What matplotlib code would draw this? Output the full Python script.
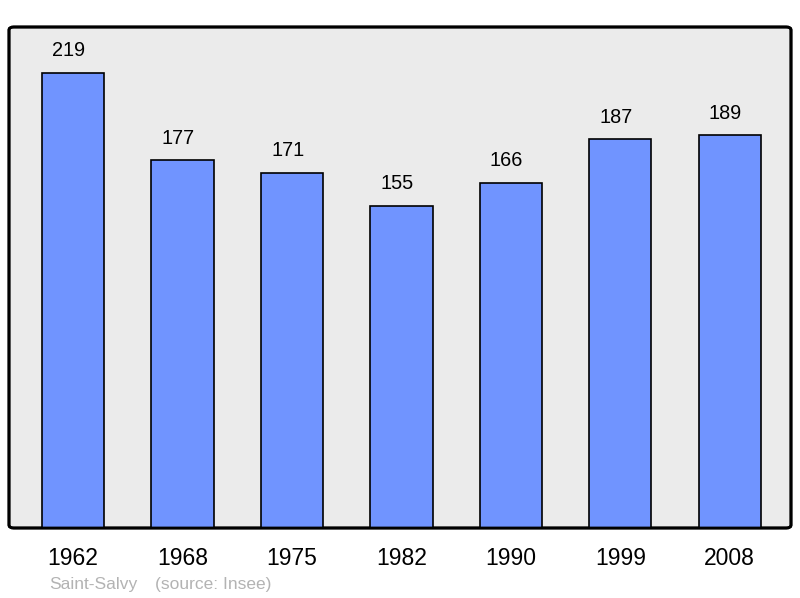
import matplotlib
matplotlib.use('Agg')
import matplotlib.pyplot as plt
from matplotlib.patches import FancyBboxPatch
import numpy as np

plt.rcParams['font.family'] = ['Liberation Sans', 'DejaVu Sans']

years = ['1962', '1968', '1975', '1982', '1990', '1999', '2008']
population = [219, 177, 171, 155, 166, 187, 189]

BG = '#ebebeb'
BAR = '#7094ff'

fig = plt.figure(figsize=(8, 5.98), dpi=100)
ax = fig.add_axes([9 / 800, 70 / 598, 782 / 800, 501 / 598])
ax.set_facecolor('none')

x = np.arange(len(years))
bars = ax.bar(x, population, width=0.57, color=BAR, edgecolor='black', linewidth=1.2, zorder=3)

# labels sit a little left of the bar centre in the original
for xi, val in zip(x, population):
    ax.annotate(str(val), (xi, val), xytext=(-3, 9), textcoords='offset points',
                ha='center', va='bottom', fontsize=14.3, color='black')

ax.set_xlim(-0.585, 6.56)
ax.set_ylim(0, 241)
ax.set_xticks(x)
ax.set_xticklabels(years, fontsize=16.5)
ax.tick_params(axis='x', length=0, pad=14)
ax.set_yticks([])
for s in ax.spines.values():
    s.set_visible(False)

box = FancyBboxPatch((0, 0), 1, 1, boxstyle='round,pad=0,rounding_size=0.006',
                     transform=ax.transAxes, facecolor=BG, edgecolor='black',
                     linewidth=2, zorder=0, clip_on=False)
ax.add_patch(box)
border = FancyBboxPatch((0, 0), 1, 1, boxstyle='round,pad=0,rounding_size=0.006',
                        transform=ax.transAxes, facecolor='none', edgecolor='black',
                        linewidth=2, zorder=5, clip_on=False)
ax.add_patch(border)

fig.text(49 / 800, 1 - 584 / 598, 'Saint-Salvy', fontsize=12.5, color='#b3b3b3', va='center')
fig.text(155 / 800, 1 - 584 / 598, '(source: Insee)', fontsize=12.5, color='#b3b3b3', va='center')

fig.savefig('out.png', dpi=100, facecolor='white')
